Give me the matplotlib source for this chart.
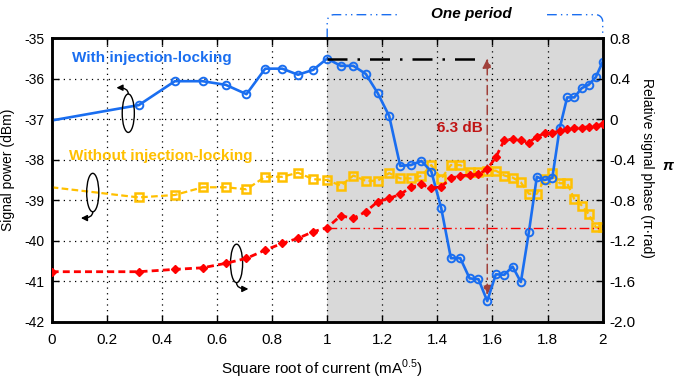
import numpy as np
import matplotlib
matplotlib.use("Agg")
import matplotlib.pyplot as plt
from matplotlib.patches import Ellipse

plt.rcParams['font.family'] = ['Liberation Sans', 'DejaVu Sans']
plt.rcParams['axes.unicode_minus'] = False
plt.rcParams['mathtext.fontset'] = 'custom'
plt.rcParams['mathtext.rm'] = 'Liberation Sans'

# square root of bias current (mA^0.5)
sqrt_i = [0, 0.316, 0.447, 0.548, 0.632, 0.707, 0.775, 0.837, 0.894, 0.949,
          1.0, 1.049, 1.095, 1.140, 1.183, 1.225, 1.265, 1.304, 1.342, 1.378,
          1.414, 1.449, 1.483, 1.517, 1.549, 1.581, 1.612, 1.643, 1.673, 1.703,
          1.732, 1.761, 1.789, 1.817, 1.844, 1.871, 1.897, 1.924, 1.949, 1.975, 2.0]

# signal power with injection locking (dBm)
p_locked = [-37.03, -36.65, -36.06, -36.06, -36.15, -36.38, -35.75, -35.75, -35.90, -35.78,
            -35.50, -35.68, -35.68, -35.88, -36.35, -36.92, -38.15, -38.13, -38.03, -38.29,
            -39.20, -40.43, -40.43, -40.93, -40.95, -41.49, -40.83, -40.84, -40.64, -41.02,
            -39.79, -38.42, -38.50, -38.45, -37.22, -36.46, -36.46, -36.23, -36.15, -35.96, -35.58]

# signal power without injection locking (dBm)
p_free = [-38.68, -38.93, -38.87, -38.68, -38.68, -38.73, -38.42, -38.42, -38.32, -38.48,
          -38.50, -38.64, -38.39, -38.52, -38.52, -38.33, -38.46, -38.46, -38.40, -38.13,
          -38.47, -38.13, -38.13, -38.29, -38.31, -38.27, -38.27, -38.39, -38.44, -38.56,
          -38.84, -38.84, -38.48, -38.32, -38.58, -38.58, -38.97, -39.13, -39.34, -39.67, -39.67]

# relative signal phase (pi rad)
phase = [-1.506, -1.506, -1.483, -1.467, -1.423, -1.374, -1.292, -1.226, -1.176, -1.111,
         -1.071, -0.953, -0.979, -0.913, -0.815, -0.781, -0.742, -0.672, -0.643, -0.682,
         -0.666, -0.583, -0.558, -0.551, -0.544, -0.492, -0.376, -0.205, -0.198, -0.205,
         -0.231, -0.172, -0.139, -0.133, -0.116, -0.099, -0.089, -0.083, -0.074, -0.064, -0.050]

x_ticks = [0, 0.2, 0.4, 0.6, 0.8, 1.0, 1.2, 1.4, 1.6, 1.8, 2.0]
x_labels = ['0', '0.2', '0.4', '0.6', '0.8', '1', '1.2', '1.4', '1.6', '1.8', '2']
p_ticks = [-35, -36, -37, -38, -39, -40, -41, -42]
ph_ticks = [0.8, 0.4, 0, -0.4, -0.8, -1.2, -1.6, -2.0]
ph_labels = ['0.8', '0.4', '0', '-0.4', '-0.8', '-1.2', '-1.6', '-2.0']

c_blue = '#1a6ef0'
c_yel = '#ffc000'
c_red = '#ff0000'

fig = plt.figure(figsize=(6.74, 3.81), dpi=100)
ax = fig.add_axes([0.0767, 0.1556, 0.8175, 0.7439])
ax2 = ax.twinx()

ax.set_xlim(0, 2)
ax.set_ylim(-42, -35)
ax2.set_ylim(-2.0, 0.8)

# one period shaded
ax.axvspan(1.0, 2.0, color='#d9d9d9', zorder=0, lw=0)
ax.grid(True, color='k', linestyle=(0, (1, 3.5)), lw=0.9)
ax.set_axisbelow(False)

ax.plot(sqrt_i, p_free, color=c_yel, lw=1.6, dashes=(3, 1.5), marker='s', ms=5.5,
        mfc='none', mew=1.8, markevery=list(range(1, len(sqrt_i))), zorder=3)
ax.plot(sqrt_i, p_locked, color=c_blue, lw=1.9, marker='o', ms=5.5, mfc='none',
        mew=1.4, markevery=list(range(1, len(sqrt_i))), zorder=4)
ax2.plot(sqrt_i, phase, color=c_red, lw=2.0, dashes=(2.5, 1.5), marker='D', ms=4,
         mec=c_red, mfc=c_red, zorder=3)

# reference lines
i_ref = sqrt_i.index(1.0)
i_min = int(np.argmin(p_locked))
x_min = sqrt_i[i_min]
ax.plot([1.0, 1.552], [p_locked[i_ref], p_locked[i_ref]], color='k', lw=1.8,
        dashes=(8, 4, 1, 4), zorder=5)
ax2.plot([1.0, 2.0], [phase[i_ref], phase[i_ref]], color=c_red, lw=1.0,
         dashes=(7, 2.5, 1, 2.5, 1, 2.5), zorder=2)
ax.annotate('', xy=(x_min, p_locked[i_ref]), xytext=(x_min, p_locked[i_min] + 0.15),
            arrowprops=dict(arrowstyle='<|-|>', color='#a0403a', lw=1.1, ls=(0, (6, 3, 1, 3)),
                            mutation_scale=14, shrinkA=0, shrinkB=0), zorder=3)
ax.text(1.482, -37.21, '6.3 dB', color='#c01515', fontsize=11, fontweight='bold',
        ha='center', va='center', zorder=6)

# series labels
ax.text(0.074, -35.49, 'With injection-locking', color=c_blue, fontsize=11,
        fontweight='bold', ha='left', va='center')
ax.text(0.064, -37.9, 'Without injection-locking', color=c_yel, fontsize=11,
        fontweight='bold', ha='left', va='center')

# ellipses marking which axis each curve belongs to
for (cx, cy), start, end in [((0.278, -36.85), (0.278, -36.37), (0.235, -36.22)),
                             ((0.149, -38.81), (0.149, -39.29), (0.106, -39.44)),
                             ((0.671, -40.56), (0.671, -41.04), (0.714, -41.19))]:
    ax.add_patch(Ellipse((cx, cy), 0.044, 0.95, fill=False, ec='k', lw=1.0, zorder=6))
    ax.annotate('', xy=end, xytext=start,
                arrowprops=dict(arrowstyle='-|>', color='k', lw=1.0, mutation_scale=9,
                                connectionstyle='angle3,angleA=90,angleB=0',
                                shrinkA=0, shrinkB=0))

# one period bracket above the axes
y_top = -34.417
t = np.linspace(0, np.pi / 2, 12)
rx, ry = 0.025, 0.17
bx = np.concatenate([[1.0], 1.0 + rx - rx * np.cos(t), [1.257]])
by = np.concatenate([[-35.0], y_top - ry + ry * np.sin(t), [y_top]])
ax.plot(bx, by, color=c_blue, lw=1.0, dashes=(7, 3, 1, 3, 1, 3), clip_on=False)
bx = np.concatenate([[1.798], 2.0 - rx + rx * np.sin(t), [2.0]])
by = np.concatenate([[y_top], y_top - ry + ry * np.cos(t), [-35.0]])
ax.plot(bx, by, color=c_blue, lw=1.0, dashes=(7, 3, 1, 3, 1, 3), clip_on=False)
ax.text(1.524, -34.40, 'One period', fontsize=11, fontweight='bold', fontstyle='italic',
        ha='center', va='center')

# axes styling
ax.set_xticks(x_ticks)
ax.set_xticklabels(x_labels)
ax.set_yticks(p_ticks)
ax2.set_yticks(ph_ticks)
ax2.set_yticklabels(ph_labels)
ax.tick_params(axis='x', direction='in', length=5, width=1, top=True, labelsize=11, pad=8)
ax.tick_params(axis='y', direction='in', length=5, width=1, labelsize=10, pad=5)
ax2.tick_params(axis='y', direction='in', length=5, width=1, labelsize=11, pad=5)
for a in (ax, ax2):
    for s in a.spines.values():
        s.set_linewidth(1.8)

ax.set_xlabel('Square root of current (mA$^{0.5}$)', fontsize=11)
ax.xaxis.set_label_coords(0.49, -0.128)
ax.set_ylabel('Signal power (dBm)', fontsize=10)
ax.yaxis.set_label_coords(-0.066, 0.535)
ax2.set_ylabel('Relative signal phase (π·rad)', fontsize=10, rotation=270, va='center')
ax2.yaxis.set_label_coords(1.08, 0.544)
fig.text(668 / 674, 1 - 166 / 381, 'π', fontsize=11, fontweight='bold',
         fontstyle='italic', ha='center', va='center')

fig.savefig('out.png', dpi=100)
